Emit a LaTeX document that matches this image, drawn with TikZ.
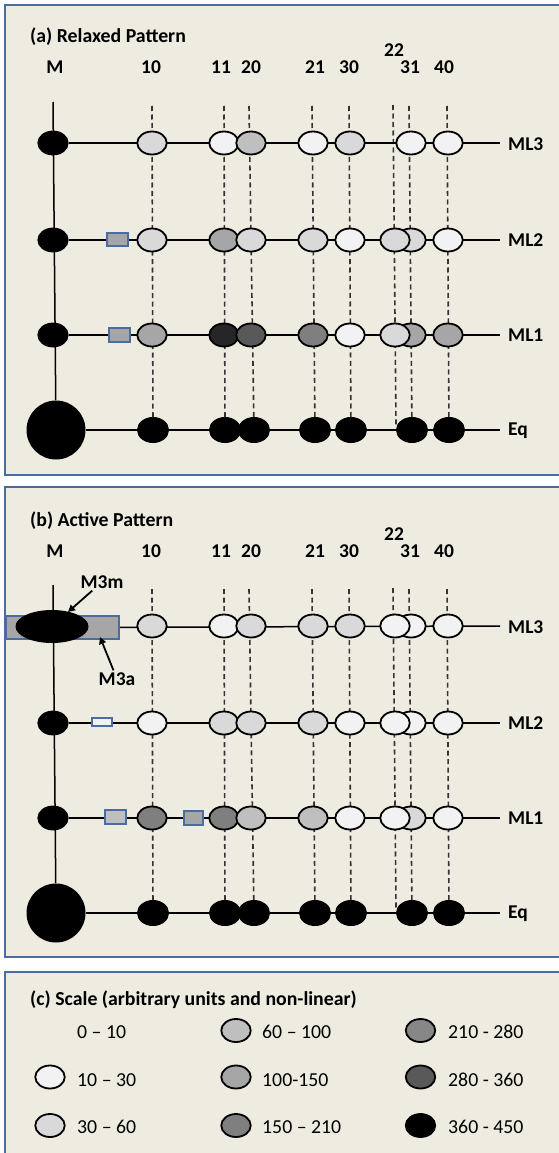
\documentclass[tikz,border=0pt]{standalone}
\usepackage{fontspec}
\setmainfont{Carlito}
\usetikzlibrary{shapes.geometric,arrows.meta}
\pgfdeclarelayer{panelbg}
\pgfdeclarelayer{lines}
\pgfsetlayers{panelbg,lines,main}
\definecolor{panelfill}{HTML}{EEECE1}
\definecolor{panelline}{HTML}{4A6C9E}
\definecolor{gA}{HTML}{F2F2F2}
\definecolor{gB}{HTML}{D9D9D9}
\definecolor{gC}{HTML}{BFBFBF}
\definecolor{gD}{HTML}{A6A6A6}
\definecolor{gE}{HTML}{7F7F7F}
\definecolor{gF}{HTML}{878787}
\definecolor{gG}{HTML}{595959}
\definecolor{gH}{HTML}{262626}
\definecolor{dashgray}{HTML}{333333}
\tikzset{
  panel/.style={draw=panelline, line width=2pt, fill=panelfill},
  blob/.style={ellipse, draw=black, line width=1.8pt, minimum width=29.5pt, minimum height=23pt, inner sep=0pt},
  mblob/.style={blob, fill=black},
  eqblob/.style={ellipse, draw=black, fill=black, line width=1pt, minimum width=31pt, minimum height=25pt, inner sep=0pt},
  bigblob/.style={circle, fill=black, minimum size=59pt, inner sep=0pt},
  rowline/.style={black, line width=1.5pt},
  guide/.style={dashgray, line width=1.6pt, dash pattern=on 5pt off 3.5pt},
  hdr/.style={font=\fontsize{19.8}{22}\selectfont\bfseries, anchor=base west, inner sep=0pt},
  collabel/.style={font=\fontsize{19.5}{22}\selectfont\bfseries, anchor=base, inner sep=0pt},
  rowlabel/.style={font=\fontsize{19.5}{22}\selectfont\bfseries, anchor=base west, inner sep=0pt},
  calllabel/.style={font=\fontsize{19.5}{22}\selectfont\bfseries, inner sep=2pt},
  legtext/.style={font=\fontsize{19.8}{22}\selectfont, anchor=base west, inner sep=0pt},
  enzyme/.style={rectangle, draw=panelline, line width=1.6pt, inner sep=0pt},
  callout/.style={black, line width=1.8pt, -{Triangle[length=7pt,width=7pt]}},
}
\newcommand\blobrow[3]{\foreach \n/\xx/\cc in {#3} {\node[blob, fill=\cc] (#1\n) at (\xx,#2) {};}}
\newcommand\commonpanel[1]{%
  \node[collabel] (#1lM) at (55,74) {M};
  \node[collabel] (#1l10) at (151,74) {10};
  \node[collabel] (#1l11) at (221,74) {11};
  \node[collabel] (#1l20) at (251,74) {20};
  \node[collabel] (#1l21) at (315,74) {21};
  \node[collabel] (#1l30) at (349,74) {30};
  \node[collabel] (#1l22) at (394,57) {22};
  \node[collabel] (#1l31) at (410,74) {31};
  \node[collabel] (#1l40) at (444,74) {40};
  \node[mblob] (#1M2) at (53,240) {};
  \node[mblob] (#1M1) at (53,335) {};
  \node[bigblob] (#1Meq) at (56,430) {};
  \coordinate (#1Mtop) at (53,102);
  \foreach \n/\xx in {10/153,11/225,20/254,21/315,30/351,31/412,40/449}
    {\node[eqblob] (#1eq\n) at (\xx,430) {};}
  \coordinate (#1E3) at (500,143);
  \coordinate (#1E2) at (500,240);
  \coordinate (#1E1) at (500,335);
  \coordinate (#1Eeq) at (500,430);
  \node[rowlabel] (#1L3) at (508,150) {ML3};
  \node[rowlabel] (#1L2) at (508,246.5) {ML2};
  \node[rowlabel] (#1L1) at (508,341.5) {ML1};
  \node[rowlabel] (#1Leq) at (508,435) {Eq};
  \begin{pgfonlayer}{lines}
    \draw[rowline] (#1Mtop) -- (#1Meq);
    \draw[rowline] (#1M2) -- (#1E2);
    \draw[rowline] (#1M1) -- (#1E1);
    \draw[rowline] (#1Meq) -- (#1Eeq);
    \foreach \n/\xx in {10/152,11/224,20/249,21/312,30/349,31/409,40/447}
      {\coordinate (#1t\n) at (\xx,106); \draw[guide] (#1t\n) -- (#1eq\n);}
    \coordinate (#1t22) at (393,105);
    \coordinate (#1b22) at (396,425);
    \draw[guide] (#1t22) -- (#1b22);
  \end{pgfonlayer}
}
\begin{document}
\begin{tikzpicture}[x=1pt, y=-1pt]
\path[use as bounding box] (0,0) rectangle (559,1153);
\begin{pgfonlayer}{panelbg}
  \clip (0,0) rectangle (559,1153);
  \path[panel] (5,5) rectangle (565,475);
  \path[panel] (5,487) rectangle (565,957);
  \path[panel] (5,972) rectangle (565,1175);
\end{pgfonlayer}

% ---------- (a) Relaxed Pattern ----------
\node[hdr] (atitle) at (30,43) {(a) Relaxed Pattern};
\commonpanel{a}
\node[mblob] (aM3) at (53,143) {};
\begin{pgfonlayer}{lines}
  \draw[rowline] (aM3) -- (aE3);
\end{pgfonlayer}
\node[enzyme, fill=gD, minimum width=21.5pt, minimum height=13.5pt] (aenz2) at (117.5,239.5) {};
\node[enzyme, fill=gD, minimum width=21.5pt, minimum height=14.5pt] (aenz1) at (119.5,335) {};
\blobrow{aR3-}{143}{10/152/gB, 11/224/gA, 20/251/gC, 21/313/gA, 30/350/gB, 31/411/gA, 40/448/gA}
\blobrow{aR2-}{240}{10/152/gB, 11/224/gD, 20/251/gB, 21/313/gB, 30/350/gA, 31/411/gB, 22/395/gB, 40/448/gA}
\blobrow{aR1-}{335}{10/152/gD, 11/224/gH, 20/251/gG, 21/313/gE, 30/350/gA, 31/411/gD, 22/395/gB, 40/448/gD}

% ---------- (b) Active Pattern ----------
\begin{scope}[yshift=-483pt]
\node[hdr] (btitle) at (30,43) {(b) Active Pattern};
\commonpanel{b}
\node[enzyme, fill=gD, minimum width=113.5pt, minimum height=23.5pt] (bM3a) at (62.5,144.5) {};
\node[ellipse, fill=black, minimum width=73pt, minimum height=33pt, inner sep=0pt] (bM3) at (52,143.5) {};
\begin{pgfonlayer}{lines}
  \draw[rowline] (bM3a) -- (bE3);
\end{pgfonlayer}
\node[enzyme, fill=gA, minimum width=20.5pt, minimum height=8.5pt] (benz2) at (102,239) {};
\node[enzyme, fill=gC, minimum width=21.5pt, minimum height=13.5pt] (benz1) at (115.5,334) {};
\node[enzyme, fill=gD, minimum width=19.5pt, minimum height=14.5pt] (benz1b) at (193.5,335) {};
\blobrow{bR3-}{143}{10/152/gB, 11/224/gA, 20/251/gB, 21/313/gB, 30/350/gB, 31/411/gA, 22/395/gA, 40/448/gA}
\blobrow{bR2-}{240}{10/152/gA, 11/224/gB, 20/251/gB, 21/313/gB, 30/350/gA, 31/411/gA, 22/395/gA, 40/448/gA}
\blobrow{bR1-}{335}{10/152/gE, 11/224/gE, 20/251/gC, 21/313/gC, 30/350/gA, 31/411/gB, 22/395/gA, 40/448/gA}
\node[calllabel] (m3mlabel) at (102,99) {M3m};
\node[calllabel] (m3alabel) at (117,196) {M3a};
\coordinate (m3mtip) at (68,129);
\coordinate (m3atip) at (100,154);
\draw[callout] (m3mlabel) -- (m3mtip);
\draw[callout] (m3alabel) -- (m3atip);
\end{scope}

% ---------- (c) Scale ----------
\node[hdr] (ctitle) at (30,1005) {(c) Scale (arbitrary units and non-linear)};
\node[legtext] (t1) at (77,1038) {0 – 10};
\node[blob, fill=gA] (e2) at (50,1077) {};
\node[legtext] (t2) at (77,1086) {10 – 30};
\node[blob, fill=gB] (e3) at (50,1125.5) {};
\node[legtext] (t3) at (77,1133) {30 – 60};
\node[blob, fill=gC] (e4) at (236,1030.5) {};
\node[legtext] (t4) at (262,1038) {60 – 100};
\node[blob, fill=gD] (e5) at (236,1077) {};
\node[legtext] (t5) at (262,1086) {100-150};
\node[blob, fill=gE] (e6) at (236,1125.5) {};
\node[legtext] (t6) at (262,1133) {150 – 210};
\node[blob, fill=gF] (e7) at (420.5,1030.5) {};
\node[legtext] (t7) at (448,1038) {210 - 280};
\node[blob, fill=gG] (e8) at (420.5,1077) {};
\node[legtext] (t8) at (448,1086) {280 - 360};
\node[blob, fill=black] (e9) at (420.5,1125.5) {};
\node[legtext] (t9) at (448,1133) {360 - 450};
\end{tikzpicture}
\end{document}
